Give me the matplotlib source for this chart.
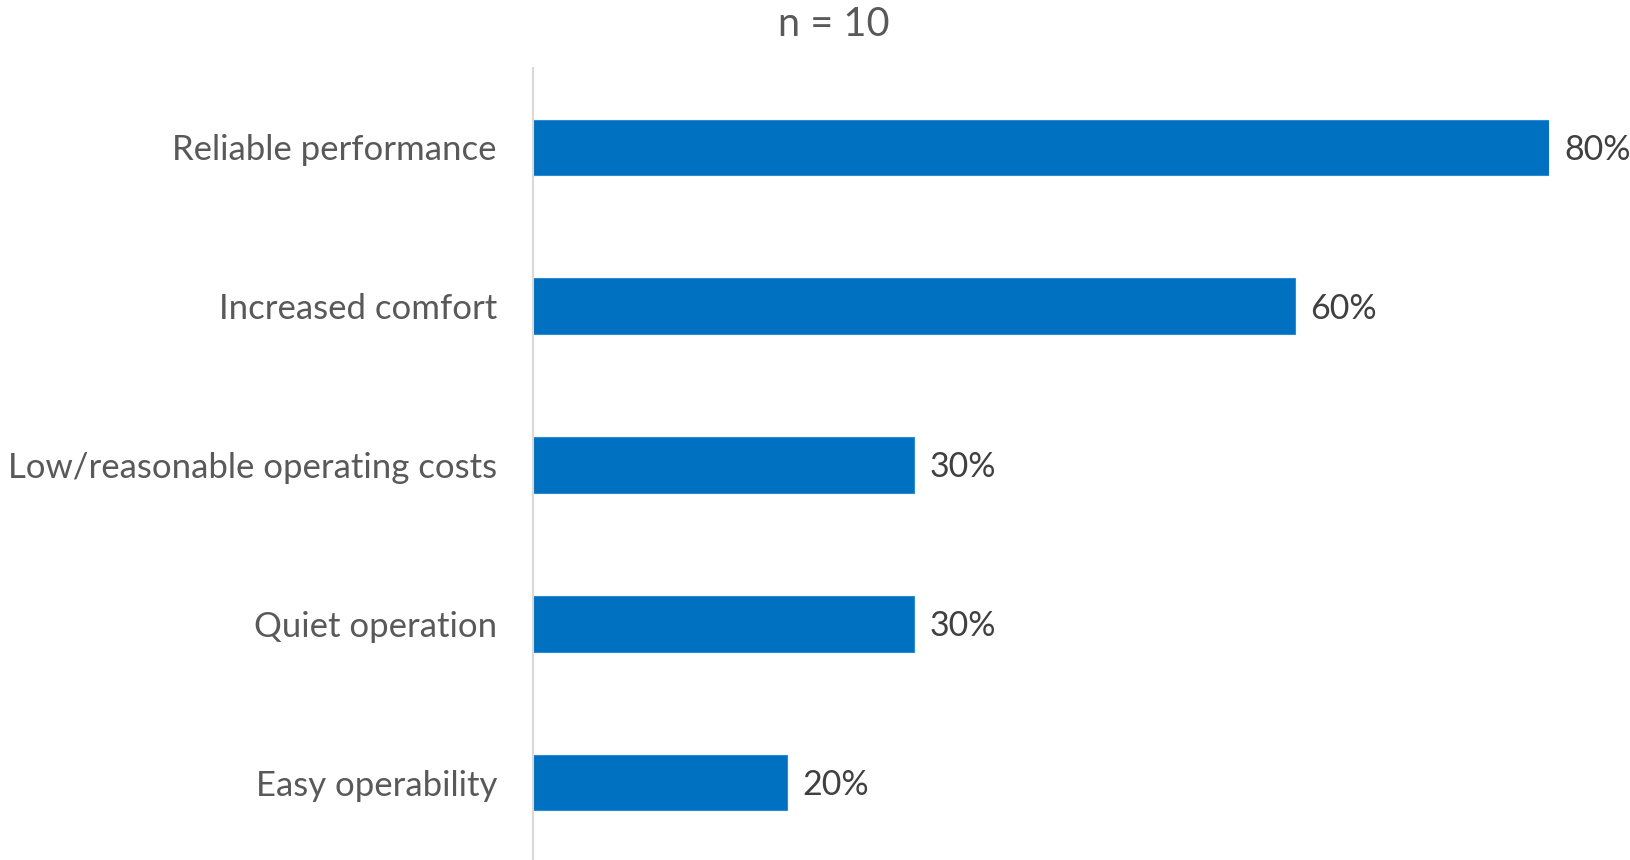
import matplotlib.pyplot as plt

categories = ["Reliable performance", "Increased comfort", "Low/reasonable operating costs",
              "Quiet operation", "Easy operability"]
shares = [0.80, 0.60, 0.30, 0.30, 0.20]
sample_label = "n = 10"

plt.rcParams['font.family'] = ['Lato', 'DejaVu Sans']

W, H = 1631, 860
fig = plt.figure(figsize=(W / 100, H / 100), dpi=100)
# axes box placed in pixel terms: spine at x=533, 80% bar ends at x=1549
ax = fig.add_axes([533 / W, -2 / H, 1016 / W, (860 - 68 + 2) / H])

y = list(range(len(categories)))
ax.barh(y, shares, height=0.35, color="#0070C0", edgecolor="#2E8AD0", linewidth=0.8)
ax.set_xlim(0, 0.8)
ax.set_ylim(len(categories) - 0.5, -0.5)

for yi, v in zip(y, shares):
    ax.text(v + 0.012, yi + 0.015, f"{v:.0%}", va="center", ha="left",
            fontsize=24.5, color="#404040")

ax.set_yticks(y)
ax.set_yticklabels(categories, fontsize=25, color="#595959")
ax.tick_params(axis="y", length=0, pad=26)
ax.set_xticks([])

for side in ("top", "right", "bottom"):
    ax.spines[side].set_visible(False)
ax.spines["left"].set_color("#D9D9D9")
ax.spines["left"].set_linewidth(1.5)

fig.text(834 / W, 1 - 25 / H, sample_label, ha="center", va="center",
         fontsize=28.5, color="#595959")

fig.savefig("out.png", dpi=100)
